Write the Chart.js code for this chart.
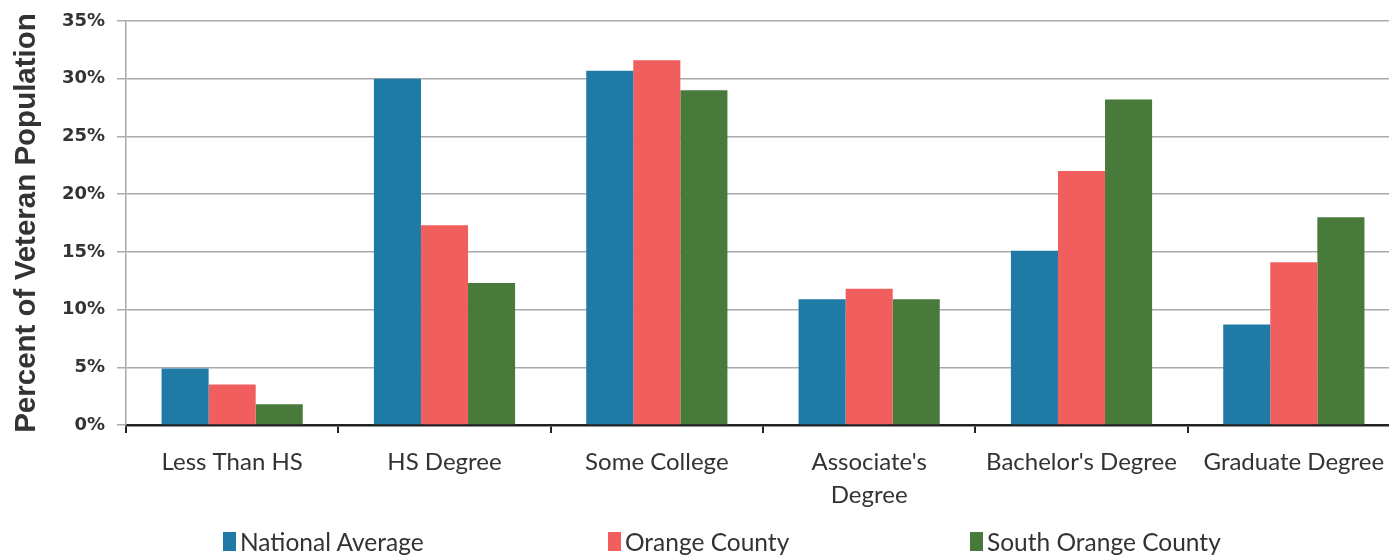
<!DOCTYPE html>
<html>
<head>
<meta charset="utf-8">
<script src="https://cdn.jsdelivr.net/npm/chart.js@4/dist/chart.umd.min.js"></script>
<style>
  html, body { margin: 0; padding: 0; background: #fff; overflow: hidden; }
  #wrap { position: relative; width: 1400px; height: 556px; }
  #legend { position: absolute; left: 0; top: 527px; width: 1400px; height: 29px;
    font-family: 'Lato', sans-serif; font-size: 24.5px; color: #333; }
  .item { position: absolute; top: 0; display: flex; align-items: center; height: 29px; white-space: nowrap; }
  .box { width: 13px; height: 19px; margin-right: 4px; }
</style>
</head>
<body>
<div id="wrap"><canvas id="c" width="1400" height="556"></canvas><div id="legend"></div></div>
<script>
const categories = ["Less Than HS", "HS Degree", "Some College", ["Associate's", "Degree"], "Bachelor's Degree", "Graduate Degree"];
const seriesNames = ["National Average", "Orange County", "South Orange County"];
const nationalAverage = [4.9, 30.0, 30.7, 10.9, 15.1, 8.7];
const orangeCounty = [3.5, 17.3, 31.6, 11.8, 22.0, 14.1];
const southOrangeCounty = [1.8, 12.3, 29.0, 10.9, 28.2, 18.0];
const yTicks = [0, 5, 10, 15, 20, 25, 30, 35];
const colors = ["#1f7ba5", "#f05e5e", "#477a3b"];
const legendLeft = [223, 608, 970];

const ctx = document.getElementById('c');
const chart = new Chart(ctx, {
  type: 'bar',
  data: {
    labels: categories,
    datasets: [
      { label: seriesNames[0], data: nationalAverage, backgroundColor: colors[0] },
      { label: seriesNames[1], data: orangeCounty, backgroundColor: colors[1] },
      { label: seriesNames[2], data: southOrangeCounty, backgroundColor: colors[2] }
    ]
  },
  options: {
    responsive: false,
    animation: false,
    layout: { padding: { top: 7, left: 0, right: 0, bottom: 0 } },
    datasets: { bar: { categoryPercentage: 0.665, barPercentage: 1.0 } },
    plugins: {
      tooltip: { enabled: false },
      legend: { display: false }
    },
    scales: {
      x: {
        grid: { display: true, drawOnChartArea: false, drawTicks: true, tickLength: 8, color: '#222', lineWidth: 2 },
        border: { display: true, color: '#222', width: 2.5 },
        ticks: { font: { family: 'Lato', size: 24, lineHeight: 1.375 }, color: '#333', padding: 13, maxRotation: 0, autoSkip: false },
        afterFit: (s) => { s.height = 131; }
      },
      y: {
        min: 0, max: 35,
        afterBuildTicks: (s) => { s.ticks = yTicks.map(v => ({ value: v })); },
        grid: { color: '#aaa', lineWidth: 1.5, tickLength: 9 },
        border: { display: true, color: '#aaa', width: 1.5 },
        ticks: { font: { family: 'DejaVu Sans', size: 18, weight: 'bold', lineHeight: 1.0 }, color: '#333', padding: 12, callback: v => v + '%' },
        title: { display: true, text: 'Percent of Veteran Population', font: { family: 'Liberation Sans', size: 29.5, weight: 'bold' }, color: '#333', padding: { top: 9, bottom: 0 } },
        afterFit: (s) => { s.width = 126; }
      }
    }
  }
});

// HTML legend built from the chart's datasets
const legendEl = document.getElementById('legend');
chart.data.datasets.forEach((ds, i) => {
  const item = document.createElement('div');
  item.className = 'item';
  item.style.left = legendLeft[i] + 'px';
  const box = document.createElement('span');
  box.className = 'box';
  box.style.background = ds.backgroundColor;
  const txt = document.createElement('span');
  txt.textContent = ds.label;
  item.appendChild(box);
  item.appendChild(txt);
  legendEl.appendChild(item);
});
</script>
</body>
</html>
